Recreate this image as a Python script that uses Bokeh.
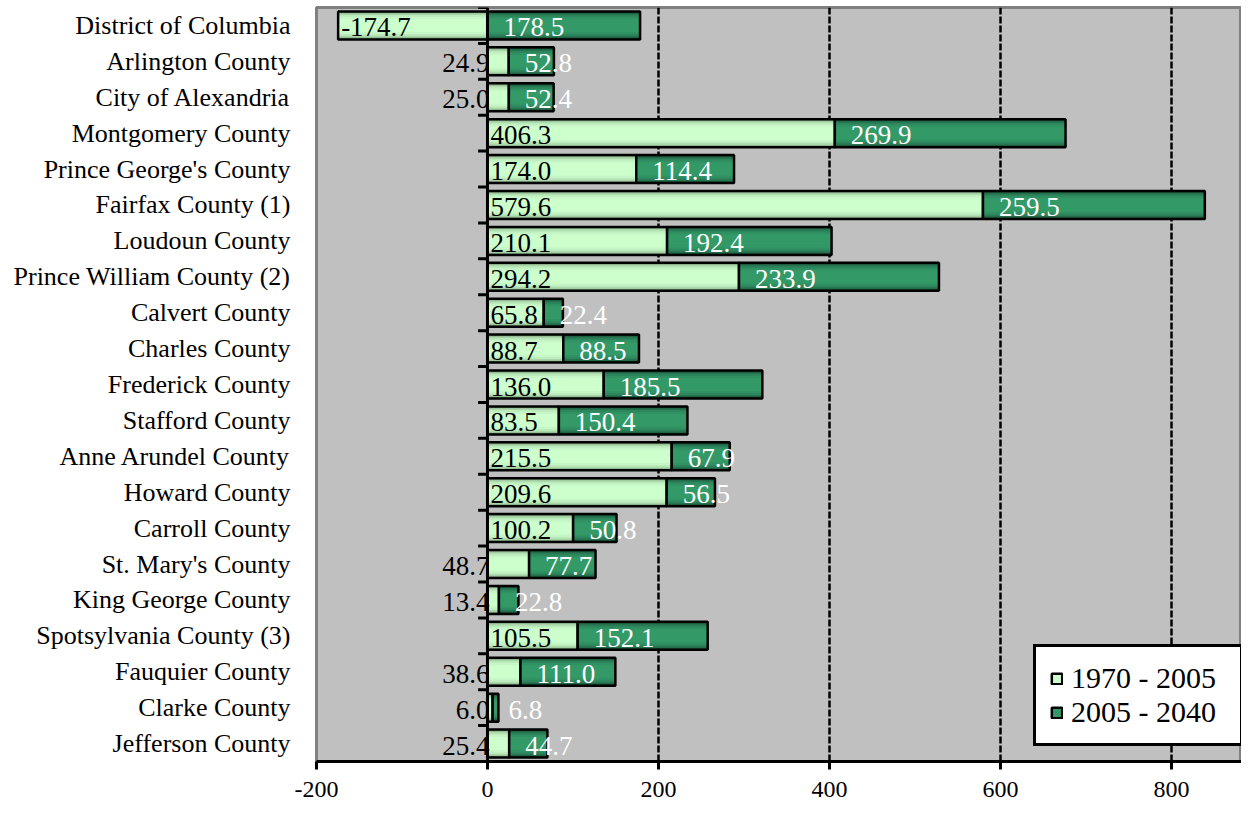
from bokeh.plotting import figure
from bokeh.models import Range1d, FixedTicker, ColumnDataSource, Span, Legend, LegendItem
from bokeh.core.properties import value
from bokeh.embed import file_html
from bokeh.resources import INLINE

counties = ["District of Columbia", "Arlington County", "City of Alexandria", "Montgomery County",
            "Prince George's County", "Fairfax County (1)", "Loudoun County", "Prince William County (2)",
            "Calvert County", "Charles County", "Frederick County", "Stafford County",
            "Anne Arundel County", "Howard County", "Carroll County", "St. Mary's County",
            "King George County", "Spotsylvania County (3)", "Fauquier County", "Clarke County",
            "Jefferson County"]
growth_1970_2005 = [-174.7, 24.9, 25.0, 406.3, 174.0, 579.6, 210.1, 294.2, 65.8, 88.7, 136.0, 83.5,
                    215.5, 209.6, 100.2, 48.7, 13.4, 105.5, 38.6, 6.0, 25.4]
growth_2005_2040 = [178.5, 52.8, 52.4, 269.9, 114.4, 259.5, 192.4, 233.9, 22.4, 88.5, 185.5, 150.4,
                    67.9, 56.5, 50.8, 77.7, 22.8, 152.1, 111.0, 6.8, 44.7]
x_ticks = [-200, 0, 200, 400, 600, 800]
x_tick_labels = ["-200", "0", "200", "400", "600", "800"]
series_names = ["1970 - 2005", "2005 - 2040"]

FONT = value("Liberation Serif")
n = len(counties)
ypos = [n - 1 - i for i in range(n)]

l_left = [min(0, v) for v in growth_1970_2005]
l_right = [max(0, v) for v in growth_1970_2005]
d_left = [max(0, v) for v in growth_1970_2005]
d_right = [a + b for a, b in zip(d_left, growth_2005_2040)]

src = ColumnDataSource(dict(
    y=ypos, l_left=l_left, l_right=l_right, d_left=d_left, d_right=d_right,
    l_txt=[f"{v:.1f}" for v in growth_1970_2005],
    d_txt=[f"{v:.1f}" for v in growth_2005_2040],
))

p = figure(frame_width=925, frame_height=754, x_range=Range1d(-200, 882),
           y_range=Range1d(-0.5, 20.5), output_backend="svg", toolbar_location=None,
           min_border_left=316, min_border_right=0, min_border_top=7, min_border_bottom=40)
p.background_fill_color = "#c0c0c0"
p.border_fill_color = "white"
p.outline_line_color = "#808080"
p.outline_line_width = 3

# grid
p.ygrid.visible = False
p.xgrid.ticker = FixedTicker(ticks=[200, 400, 600, 800])
p.xgrid.grid_line_color = "black"
p.xgrid.grid_line_width = 2.5
p.xgrid.grid_line_dash = "7 2"

# x axis
p.xaxis.ticker = FixedTicker(ticks=x_ticks)
p.xaxis.major_label_overrides = {t: s for t, s in zip(x_ticks, x_tick_labels)}
p.xaxis.axis_line_color = "black"
p.xaxis.axis_line_width = 3
p.xaxis.major_tick_line_color = "black"
p.xaxis.major_tick_line_width = 3
p.xaxis.major_tick_out = 8
p.xaxis.major_tick_in = 0
p.xaxis.minor_tick_line_color = None
p.xaxis.major_label_text_font = "Liberation Serif"
p.xaxis.major_label_text_font_size = "24px"
p.xaxis.major_label_text_color = "black"
p.xaxis.major_label_standoff = 12

# y axis
p.yaxis.ticker = FixedTicker(ticks=list(range(n)))
p.yaxis.major_label_overrides = {y: c for y, c in zip(ypos, counties)}
p.yaxis.axis_line_color = None
p.yaxis.major_tick_line_color = None
p.yaxis.minor_tick_line_color = None
p.yaxis.major_label_text_font = "Liberation Serif"
p.yaxis.major_label_text_font_size = "26px"
p.yaxis.major_label_text_color = "black"
p.yaxis.major_label_standoff = 20

H = 0.78
light_layers = [(0.78, "#6c8c6c"), (0.72, "#8fb58f"), (0.66, "#a9d5a9"), (0.58, "#bbeabb"),
                (0.48, "#c6f6c6"), (0.36, "#ccffcc")]
dark_layers = [(0.78, "#163f2b"), (0.72, "#1f5c3e"), (0.66, "#267350"), (0.58, "#2c855c"),
               (0.48, "#309262"), (0.36, "#339966")]

light_r = []
for h, c in light_layers:
    light_r.append(p.hbar(y="y", left="l_left", right="l_right", height=h, source=src,
                          fill_color=c, line_color=None))
light_out = p.hbar(y="y", left="l_left", right="l_right", height=H, source=src,
                   fill_color=None, line_color="black", line_width=2.5)
dark_r = []
for h, c in dark_layers:
    dark_r.append(p.hbar(y="y", left="d_left", right="d_right", height=h, source=src,
                         fill_color=c, line_color=None))
dark_out = p.hbar(y="y", left="d_left", right="d_right", height=H, source=src,
                  fill_color=None, line_color="black", line_width=2.5)

# zero line with category boundary ticks
p.add_layout(Span(location=0, dimension="height", line_color="black", line_width=3))
bounds = [i - 0.5 for i in range(n + 1)]
p.segment(x0=[-11] * len(bounds), x1=[0] * len(bounds), y0=bounds, y1=bounds,
          line_color="black", line_width=3)

# value labels
big = ColumnDataSource(dict(
    x=[l for l, v in zip(l_left, growth_1970_2005) if abs(v) >= 60],
    y=[y for y, v in zip(ypos, growth_1970_2005) if abs(v) >= 60],
    t=[f"{v:.1f}" for v in growth_1970_2005 if abs(v) >= 60],
))
small = ColumnDataSource(dict(
    x=[0 for v in growth_1970_2005 if abs(v) < 60],
    y=[y for y, v in zip(ypos, growth_1970_2005) if abs(v) < 60],
    t=[f"{v:.1f}" for v in growth_1970_2005 if abs(v) < 60],
))
p.text(x="x", y="y", text="t", source=big, text_font=FONT, text_font_size="27px",
       text_color="black", text_align="left", text_baseline="middle", x_offset=3, y_offset=2)
p.text(x="x", y="y", text="t", source=small, text_font=FONT, text_font_size="27px",
       text_color="black", text_align="right", text_baseline="middle", x_offset=2, y_offset=2)
p.text(x="d_left", y="y", text="d_txt", source=src, text_font=FONT, text_font_size="27px",
       text_color="white", text_align="left", text_baseline="middle", x_offset=16, y_offset=2)

legend = Legend(items=[
    LegendItem(label=series_names[0], renderers=[light_r[-1], light_out]),
    LegendItem(label=series_names[1], renderers=[dark_r[-1], dark_out]),
], location=(717, 15))
legend.background_fill_color = "white"
legend.background_fill_alpha = 1
legend.border_line_color = "black"
legend.border_line_alpha = 1
legend.border_line_width = 3
legend.label_text_font = "Liberation Serif"
legend.label_text_font_size = "30px"
legend.label_text_color = "black"
legend.glyph_width = 13
legend.glyph_height = 13
legend.label_standoff = 8
legend.label_width = 155
legend.padding = 14
legend.spacing = 0
legend.margin = 0
p.add_layout(legend)

open("out.html", "w").write(file_html(p, INLINE))
